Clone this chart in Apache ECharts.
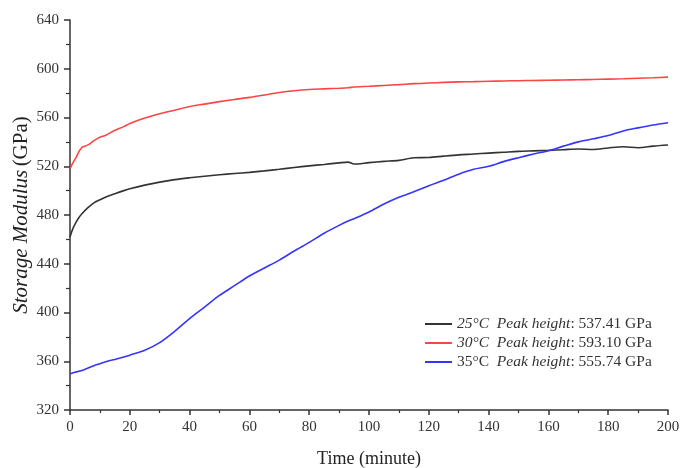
<!DOCTYPE html>
<html>
<head>
<meta charset="utf-8">
<script src="https://cdn.jsdelivr.net/npm/echarts@6/dist/echarts.min.js"></script>
<style>html,body{margin:0;padding:0;background:#fff}#c{width:680px;height:468px}</style>
</head>
<body>
<div id="c"></div>
<script>
const times = [0,1,2,3,4,6,8,10,12,15,18,20,25,30,35,40,45,50,55,60,65,70,75,80,85,90,93,95,100,105,110,115,120,125,130,135,140,145,150,155,160,165,170,175,180,185,190,195,200];
const temp25 = [462,469,474,478,481,486,490,492.5,494.8,497.5,500,501.5,504.5,507,509,510.5,511.8,513,514,515,516.2,517.5,519,520.3,521.5,522.8,523.4,521.8,523,524,524.8,527,527.2,528.3,529.3,530,530.8,531.5,532.2,532.6,533,533.6,534.2,533.8,535,536,535.2,536.5,537.4];
const temp30 = [518,523,527,532,535.5,537.5,541,543.8,545.5,549.5,552.5,555,559.5,563,566,569,571,573,574.8,576.5,578.5,580.5,582,583,583.5,584,584.4,585,585.6,586.3,587,587.8,588.3,588.8,589.2,589.4,589.7,590,590.2,590.4,590.6,590.8,591,591.2,591.5,591.8,592.2,592.6,593.1];
const temp35 = [349.5,350.5,351.2,351.8,352.5,354.5,356.4,358,359.6,361.5,363.5,365,369,375.3,384.5,395,404.5,414,422,430,436.5,443,450.5,457.5,465,471.5,475,477,482.5,489,494.5,499,504,508.5,513.5,517.5,520,523.8,527,530,532.8,536.5,540,542.5,545.2,549,551.5,553.8,555.7];
const seriesNames = ['25°C','30°C','35°C'];
const peakLabels = ['537.41 GPa','593.10 GPa','555.74 GPa'];
const xTicks = [0,20,40,60,80,100,120,140,160,180,200];
const yTicks = [320,360,400,440,480,520,560,600,640];

const colors = ['#333333','#ff4444','#3535ff'];
const font = 'Liberation Serif';
const pair = arr => times.map((t,i)=>[t,arr[i]]);
const datasets = [temp25,temp30,temp35];

const chart = echarts.init(document.getElementById('c'));
chart.setOption({
  animation:false,
  backgroundColor:'#fff',
  grid:{left:70,right:12,top:20,bottom:58,containLabel:false,outerBoundsMode:'none'},
  xAxis:{
    type:'value',min:xTicks[0],max:xTicks[xTicks.length-1],interval:20,
    name:'Time (minute)',nameLocation:'middle',nameGap:40,nameMoveOverlap:false,
    nameTextStyle:{fontFamily:font,fontSize:18,color:'#222'},
    axisLine:{show:true,onZero:false,lineStyle:{color:'#333',width:1.5}},
    axisTick:{show:true,length:5,lineStyle:{color:'#333',width:1.5}},
    minorTick:{show:true,splitNumber:2,length:3,lineStyle:{color:'#333',width:1.2}},
    splitLine:{show:false},
    axisLabel:{fontFamily:font,fontSize:15,color:'#333',margin:10}
  },
  yAxis:{
    type:'value',min:yTicks[0],max:yTicks[yTicks.length-1],interval:40,
    name:'{i|Storage Modulus} {n|(GPa)}',nameLocation:'middle',nameGap:38,nameRotate:90,nameMoveOverlap:false,
    nameTextStyle:{rich:{i:{fontFamily:font,fontSize:21,fontStyle:'italic',color:'#222'},n:{fontFamily:font,fontSize:21,color:'#222'}}},
    axisLine:{show:true,lineStyle:{color:'#333',width:1.5}},
    axisTick:{show:true,length:6,lineStyle:{color:'#333',width:1.5}},
    minorTick:{show:true,splitNumber:2,length:4,lineStyle:{color:'#333',width:1.2}},
    splitLine:{show:false},
    axisLabel:{fontFamily:font,fontSize:15,color:'#333',margin:11}
  },
  legend:{
    orient:'vertical',left:420,top:311,itemWidth:27,itemHeight:2,itemGap:3,
    icon:'rect',
    data:seriesNames,
    formatter:function(name){
      const i = seriesNames.indexOf(name);
      const tempStyle = i===2 ? 'n' : 'i';
      return '{'+tempStyle+'|'+name+'}  {i|Peak height}{n|: '+peakLabels[i]+'}';
    },
    textStyle:{fontFamily:font,fontSize:15.5,color:'#333',
      rich:{i:{fontFamily:font,fontSize:15.5,fontStyle:'italic',color:'#333',lineHeight:15},n:{fontFamily:font,fontSize:15.5,color:'#333',lineHeight:15}}}
  },
  series:datasets.map((d,i)=>({
    name:seriesNames[i],type:'line',data:pair(d),showSymbol:false,smooth:0.3,
    lineStyle:{color:colors[i],width:1.6},itemStyle:{color:colors[i]}
  }))
});
</script>
</body>
</html>
